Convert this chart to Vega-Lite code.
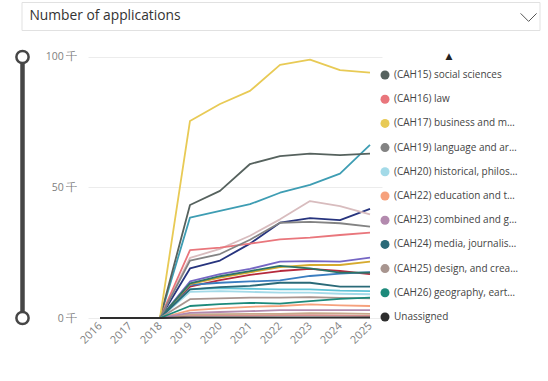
{
  "$schema": "https://vega.github.io/schema/vega-lite/v6.json",
  "background": "white",
  "padding": {"left": 10.5, "top": 1, "right": 0, "bottom": 0},
  "config": {"font": "Open Sans", "view": {"stroke": null}},
  "datasets": {
    "names": [
      {"c": "CAH01", "name": "(CAH01) medicine and dentistry"},
      {"c": "CAH02", "name": "(CAH02) subjects allied to medicine"},
      {"c": "CAH03", "name": "(CAH03) biological and sport sciences"},
      {"c": "CAH04", "name": "(CAH04) psychology"},
      {"c": "CAH05", "name": "(CAH05) veterinary sciences"},
      {"c": "CAH06", "name": "(CAH06) agriculture, food and related studies"},
      {"c": "CAH07", "name": "(CAH07) physical sciences"},
      {"c": "CAH09", "name": "(CAH09) mathematical sciences"},
      {"c": "CAH10", "name": "(CAH10) engineering and technology"},
      {"c": "CAH11", "name": "(CAH11) computing"},
      {"c": "CAH13", "name": "(CAH13) architecture, building and planning"},
      {"c": "CAH15", "name": "(CAH15) social sciences"},
      {"c": "CAH16", "name": "(CAH16) law"},
      {"c": "CAH17", "name": "(CAH17) business and management"},
      {"c": "CAH19", "name": "(CAH19) language and area studies"},
      {"c": "CAH20", "name": "(CAH20) historical, philosophical and religious studies"},
      {"c": "CAH22", "name": "(CAH22) education and teaching"},
      {"c": "CAH23", "name": "(CAH23) combined and general studies"},
      {"c": "CAH24", "name": "(CAH24) media, journalism and communications"},
      {"c": "CAH25", "name": "(CAH25) design, and creative and performing arts"},
      {"c": "CAH26", "name": "(CAH26) geography, earth and environmental studies"},
      {"c": "U", "name": "Unassigned"}
    ],
    "apps": [
      {"c":"CAH01","year":2016,"v":0},{"c":"CAH01","year":2017,"v":0},{"c":"CAH01","year":2018,"v":0},{"c":"CAH01","year":2019,"v":12000},{"c":"CAH01","year":2020,"v":14500},{"c":"CAH01","year":2021,"v":16500},{"c":"CAH01","year":2022,"v":18000},{"c":"CAH01","year":2023,"v":18800},{"c":"CAH01","year":2024,"v":18000},{"c":"CAH01","year":2025,"v":16800},
      {"c":"CAH02","year":2016,"v":0},{"c":"CAH02","year":2017,"v":0},{"c":"CAH02","year":2018,"v":0},{"c":"CAH02","year":2019,"v":38500},{"c":"CAH02","year":2020,"v":41000},{"c":"CAH02","year":2021,"v":43600},{"c":"CAH02","year":2022,"v":48000},{"c":"CAH02","year":2023,"v":51000},{"c":"CAH02","year":2024,"v":55300},{"c":"CAH02","year":2025,"v":66300},
      {"c":"CAH03","year":2016,"v":0},{"c":"CAH03","year":2017,"v":0},{"c":"CAH03","year":2018,"v":0},{"c":"CAH03","year":2019,"v":19000},{"c":"CAH03","year":2020,"v":22000},{"c":"CAH03","year":2021,"v":28500},{"c":"CAH03","year":2022,"v":36500},{"c":"CAH03","year":2023,"v":38300},{"c":"CAH03","year":2024,"v":37500},{"c":"CAH03","year":2025,"v":41800},
      {"c":"CAH04","year":2016,"v":0},{"c":"CAH04","year":2017,"v":0},{"c":"CAH04","year":2018,"v":0},{"c":"CAH04","year":2019,"v":23000},{"c":"CAH04","year":2020,"v":26500},{"c":"CAH04","year":2021,"v":31500},{"c":"CAH04","year":2022,"v":37800},{"c":"CAH04","year":2023,"v":44800},{"c":"CAH04","year":2024,"v":42900},{"c":"CAH04","year":2025,"v":39700},
      {"c":"CAH05","year":2016,"v":0},{"c":"CAH05","year":2017,"v":0},{"c":"CAH05","year":2018,"v":0},{"c":"CAH05","year":2019,"v":900},{"c":"CAH05","year":2020,"v":1000},{"c":"CAH05","year":2021,"v":1000},{"c":"CAH05","year":2022,"v":1100},{"c":"CAH05","year":2023,"v":1100},{"c":"CAH05","year":2024,"v":1000},{"c":"CAH05","year":2025,"v":800},
      {"c":"CAH06","year":2016,"v":0},{"c":"CAH06","year":2017,"v":0},{"c":"CAH06","year":2018,"v":0},{"c":"CAH06","year":2019,"v":1400},{"c":"CAH06","year":2020,"v":1500},{"c":"CAH06","year":2021,"v":1600},{"c":"CAH06","year":2022,"v":1600},{"c":"CAH06","year":2023,"v":1900},{"c":"CAH06","year":2024,"v":1800},{"c":"CAH06","year":2025,"v":1600},
      {"c":"CAH07","year":2016,"v":0},{"c":"CAH07","year":2017,"v":0},{"c":"CAH07","year":2018,"v":0},{"c":"CAH07","year":2019,"v":14000},{"c":"CAH07","year":2020,"v":16800},{"c":"CAH07","year":2021,"v":18800},{"c":"CAH07","year":2022,"v":21600},{"c":"CAH07","year":2023,"v":21800},{"c":"CAH07","year":2024,"v":21600},{"c":"CAH07","year":2025,"v":23100},
      {"c":"CAH09","year":2016,"v":0},{"c":"CAH09","year":2017,"v":0},{"c":"CAH09","year":2018,"v":0},{"c":"CAH09","year":2019,"v":11000},{"c":"CAH09","year":2020,"v":11500},{"c":"CAH09","year":2021,"v":11200},{"c":"CAH09","year":2022,"v":11000},{"c":"CAH09","year":2023,"v":11000},{"c":"CAH09","year":2024,"v":10500},{"c":"CAH09","year":2025,"v":10300},
      {"c":"CAH10","year":2016,"v":0},{"c":"CAH10","year":2017,"v":0},{"c":"CAH10","year":2018,"v":0},{"c":"CAH10","year":2019,"v":12700},{"c":"CAH10","year":2020,"v":13500},{"c":"CAH10","year":2021,"v":14000},{"c":"CAH10","year":2022,"v":14400},{"c":"CAH10","year":2023,"v":16100},{"c":"CAH10","year":2024,"v":17000},{"c":"CAH10","year":2025,"v":17600},
      {"c":"CAH11","year":2016,"v":0},{"c":"CAH11","year":2017,"v":0},{"c":"CAH11","year":2018,"v":0},{"c":"CAH11","year":2019,"v":13000},{"c":"CAH11","year":2020,"v":15500},{"c":"CAH11","year":2021,"v":17500},{"c":"CAH11","year":2022,"v":19500},{"c":"CAH11","year":2023,"v":20300},{"c":"CAH11","year":2024,"v":20300},{"c":"CAH11","year":2025,"v":21600},
      {"c":"CAH13","year":2016,"v":0},{"c":"CAH13","year":2017,"v":0},{"c":"CAH13","year":2018,"v":0},{"c":"CAH13","year":2019,"v":13300},{"c":"CAH13","year":2020,"v":16000},{"c":"CAH13","year":2021,"v":18000},{"c":"CAH13","year":2022,"v":20000},{"c":"CAH13","year":2023,"v":19000},{"c":"CAH13","year":2024,"v":17400},{"c":"CAH13","year":2025,"v":17400},
      {"c":"CAH15","year":2016,"v":0},{"c":"CAH15","year":2017,"v":0},{"c":"CAH15","year":2018,"v":0},{"c":"CAH15","year":2019,"v":43300},{"c":"CAH15","year":2020,"v":48700},{"c":"CAH15","year":2021,"v":59000},{"c":"CAH15","year":2022,"v":62000},{"c":"CAH15","year":2023,"v":63000},{"c":"CAH15","year":2024,"v":62400},{"c":"CAH15","year":2025,"v":63000},
      {"c":"CAH16","year":2016,"v":0},{"c":"CAH16","year":2017,"v":0},{"c":"CAH16","year":2018,"v":0},{"c":"CAH16","year":2019,"v":26000},{"c":"CAH16","year":2020,"v":27000},{"c":"CAH16","year":2021,"v":28500},{"c":"CAH16","year":2022,"v":30100},{"c":"CAH16","year":2023,"v":30800},{"c":"CAH16","year":2024,"v":31800},{"c":"CAH16","year":2025,"v":32700},
      {"c":"CAH17","year":2016,"v":0},{"c":"CAH17","year":2017,"v":0},{"c":"CAH17","year":2018,"v":0},{"c":"CAH17","year":2019,"v":75500},{"c":"CAH17","year":2020,"v":82000},{"c":"CAH17","year":2021,"v":87000},{"c":"CAH17","year":2022,"v":97000},{"c":"CAH17","year":2023,"v":99000},{"c":"CAH17","year":2024,"v":95000},{"c":"CAH17","year":2025,"v":94000},
      {"c":"CAH19","year":2016,"v":0},{"c":"CAH19","year":2017,"v":0},{"c":"CAH19","year":2018,"v":0},{"c":"CAH19","year":2019,"v":22000},{"c":"CAH19","year":2020,"v":24500},{"c":"CAH19","year":2021,"v":30000},{"c":"CAH19","year":2022,"v":36500},{"c":"CAH19","year":2023,"v":36800},{"c":"CAH19","year":2024,"v":36300},{"c":"CAH19","year":2025,"v":35000},
      {"c":"CAH20","year":2016,"v":0},{"c":"CAH20","year":2017,"v":0},{"c":"CAH20","year":2018,"v":0},{"c":"CAH20","year":2019,"v":10000},{"c":"CAH20","year":2020,"v":10300},{"c":"CAH20","year":2021,"v":10000},{"c":"CAH20","year":2022,"v":9700},{"c":"CAH20","year":2023,"v":9700},{"c":"CAH20","year":2024,"v":9300},{"c":"CAH20","year":2025,"v":9100},
      {"c":"CAH22","year":2016,"v":0},{"c":"CAH22","year":2017,"v":0},{"c":"CAH22","year":2018,"v":0},{"c":"CAH22","year":2019,"v":2900},{"c":"CAH22","year":2020,"v":3700},{"c":"CAH22","year":2021,"v":4300},{"c":"CAH22","year":2022,"v":4600},{"c":"CAH22","year":2023,"v":5200},{"c":"CAH22","year":2024,"v":4800},{"c":"CAH22","year":2025,"v":4600},
      {"c":"CAH23","year":2016,"v":0},{"c":"CAH23","year":2017,"v":0},{"c":"CAH23","year":2018,"v":0},{"c":"CAH23","year":2019,"v":2000},{"c":"CAH23","year":2020,"v":2300},{"c":"CAH23","year":2021,"v":2600},{"c":"CAH23","year":2022,"v":3000},{"c":"CAH23","year":2023,"v":3000},{"c":"CAH23","year":2024,"v":3000},{"c":"CAH23","year":2025,"v":3000},
      {"c":"CAH24","year":2016,"v":0},{"c":"CAH24","year":2017,"v":0},{"c":"CAH24","year":2018,"v":0},{"c":"CAH24","year":2019,"v":11000},{"c":"CAH24","year":2020,"v":11800},{"c":"CAH24","year":2021,"v":12300},{"c":"CAH24","year":2022,"v":13500},{"c":"CAH24","year":2023,"v":13500},{"c":"CAH24","year":2024,"v":12000},{"c":"CAH24","year":2025,"v":12000},
      {"c":"CAH25","year":2016,"v":0},{"c":"CAH25","year":2017,"v":0},{"c":"CAH25","year":2018,"v":0},{"c":"CAH25","year":2019,"v":7200},{"c":"CAH25","year":2020,"v":7500},{"c":"CAH25","year":2021,"v":7800},{"c":"CAH25","year":2022,"v":7800},{"c":"CAH25","year":2023,"v":8000},{"c":"CAH25","year":2024,"v":7700},{"c":"CAH25","year":2025,"v":7500},
      {"c":"CAH26","year":2016,"v":0},{"c":"CAH26","year":2017,"v":0},{"c":"CAH26","year":2018,"v":0},{"c":"CAH26","year":2019,"v":4600},{"c":"CAH26","year":2020,"v":5300},{"c":"CAH26","year":2021,"v":5800},{"c":"CAH26","year":2022,"v":5500},{"c":"CAH26","year":2023,"v":6500},{"c":"CAH26","year":2024,"v":7300},{"c":"CAH26","year":2025,"v":7800},
      {"c":"U","year":2016,"v":0},{"c":"U","year":2017,"v":0},{"c":"U","year":2018,"v":0},{"c":"U","year":2019,"v":200},{"c":"U","year":2020,"v":200},{"c":"U","year":2021,"v":200},{"c":"U","year":2022,"v":200},{"c":"U","year":2023,"v":200},{"c":"U","year":2024,"v":200},{"c":"U","year":2025,"v":200}
    ]
  },
  "spacing": 14,
  "resolve": {"legend": {"color": "independent"}},
  "vconcat": [
    {
      "width": 518,
      "height": 28,
      "view": {"stroke": "#e1e1e1", "strokeWidth": 1},
      "data": {"values": [{"label": "Number of applications"}]},
      "layer": [
        {
          "mark": {"type": "text", "align": "left", "baseline": "middle", "fontSize": 13.8, "color": "#333333"},
          "encoding": {
            "x": {"datum": 0.0154, "type": "quantitative", "scale": {"domain": [0, 1]}, "axis": null},
            "y": {"datum": 0.5, "type": "quantitative", "scale": {"domain": [0, 1]},
                  "axis": {"orient": "left", "values": [0.5], "ticks": true, "tickSize": 7, "tickColor": "transparent", "labels": false, "domain": false, "grid": false, "title": null}},
            "text": {"field": "label"}
          }
        },
        {
          "mark": {"type": "point", "shape": "M-1,-0.5L0,0.5L1,-0.5", "filled": false, "stroke": "#555555", "strokeWidth": 1, "size": 256, "opacity": 1},
          "encoding": {
            "x": {"datum": 0.979, "type": "quantitative"},
            "y": {"datum": 0.45, "type": "quantitative"}
          }
        }
      ]
    },
    {
      "spacing": 10.5,
      "resolve": {"legend": {"color": "independent"}},
      "hconcat": [
        {
          "width": 2,
          "height": 281,
          "data": {"values": [{"end": 0}, {"end": 100000}]},
          "layer": [
            {
              "mark": {"type": "rule", "color": "#464646", "strokeWidth": 4},
              "encoding": {
                "x": {"datum": 0, "type": "quantitative", "scale": {"domain": [-1, 1]}, "axis": null},
                "y": {"datum": 0, "type": "quantitative", "scale": {"domain": [-3831.4, 103831.4], "nice": false, "zero": false}, "axis": null},
                "y2": {"datum": 100000}
              }
            },
            {
              "mark": {"type": "point", "shape": "circle", "filled": true, "fill": "white", "stroke": "#464646", "strokeWidth": 2.5, "size": 150, "opacity": 1},
              "encoding": {
                "x": {"datum": 0, "type": "quantitative"},
                "y": {"field": "end", "type": "quantitative"}
              }
            }
          ]
        },
        {
          "width": 294,
          "height": 281,
          "data": {"name": "apps"},
          "transform": [{"lookup": "c", "from": {"data": {"name": "names"}, "key": "c", "fields": ["name"]}}],
          "mark": {"type": "line", "strokeWidth": 1.8, "strokeJoin": "round"},
          "encoding": {
            "x": {"field": "year", "type": "ordinal", "scale": {"type": "point", "padding": 0.4},
                  "axis": {"labelAngle": -45, "labelAlign": "right", "labelBaseline": "middle", "labelColor": "#808080", "labelFontSize": 11, "ticks": false, "tickSize": 0, "domain": false, "grid": false, "title": null, "offset": -10, "labelPadding": 6}},
            "y": {"field": "v", "type": "quantitative", "scale": {"domain": [-3831.4, 103831.4], "nice": false, "zero": false},
                  "axis": {"values": [0, 50000, 100000], "labelExpr": "format(datum.value/1000,'d') + ' 千'", "labelColor": "#808080", "labelFontSize": 10.5, "ticks": false, "tickSize": 0, "domain": false, "gridColor": "#ececec", "labelPadding": 11, "title": null}},
            "color": {
              "field": "name", "type": "nominal",
              "scale": {
                "domain": ["(CAH01) medicine and dentistry","(CAH02) subjects allied to medicine","(CAH03) biological and sport sciences","(CAH04) psychology","(CAH05) veterinary sciences","(CAH06) agriculture, food and related studies","(CAH07) physical sciences","(CAH09) mathematical sciences","(CAH10) engineering and technology","(CAH11) computing","(CAH13) architecture, building and planning","(CAH15) social sciences","(CAH16) law","(CAH17) business and management","(CAH19) language and area studies","(CAH20) historical, philosophical and religious studies","(CAH22) education and teaching","(CAH23) combined and general studies","(CAH24) media, journalism and communications","(CAH25) design, and creative and performing arts","(CAH26) geography, earth and environmental studies","Unassigned"],
                "range": ["#B5293C","#3E9DB3","#27347E","#D8BCBE","#D98E8E","#C7A889","#7566C4","#5FC3D6","#3A7DC0","#D6AA2E","#2D7466","#56625E","#E9767C","#E8CA55","#838383","#A3DAE8","#F6A17C","#B38AAE","#2A6A78","#A8958F","#1D8A7B","#2E2E2E"]
              },
              "legend": {
                "orient": "right", "offset": -7, "padding": 5,
                "title": "▲", "titleFont": "DejaVu Sans", "titleFontSize": 9, "titleColor": "#222222", "titleAnchor": "middle", "titlePadding": 9,
                "values": ["(CAH15) social sciences","(CAH16) law","(CAH17) business and management","(CAH19) language and area studies","(CAH20) historical, philosophical and religious studies","(CAH22) education and teaching","(CAH23) combined and general studies","(CAH24) media, journalism and communications","(CAH25) design, and creative and performing arts","(CAH26) geography, earth and environmental studies","Unassigned"],
                "symbolType": "circle", "symbolSize": 81, "symbolStrokeWidth": 0,
                "labelFontSize": 10, "labelColor": "#444444", "labelLimit": 126, "labelOffset": 4, "rowPadding": 14.2,
                "encode": {"symbols": {"update": {"fill": {"scale": "color", "field": "value"}, "fillOpacity": {"value": 1}, "strokeWidth": {"value": 0}}}}
              }
            }
          }
        }
      ]
    }
  ]
}
